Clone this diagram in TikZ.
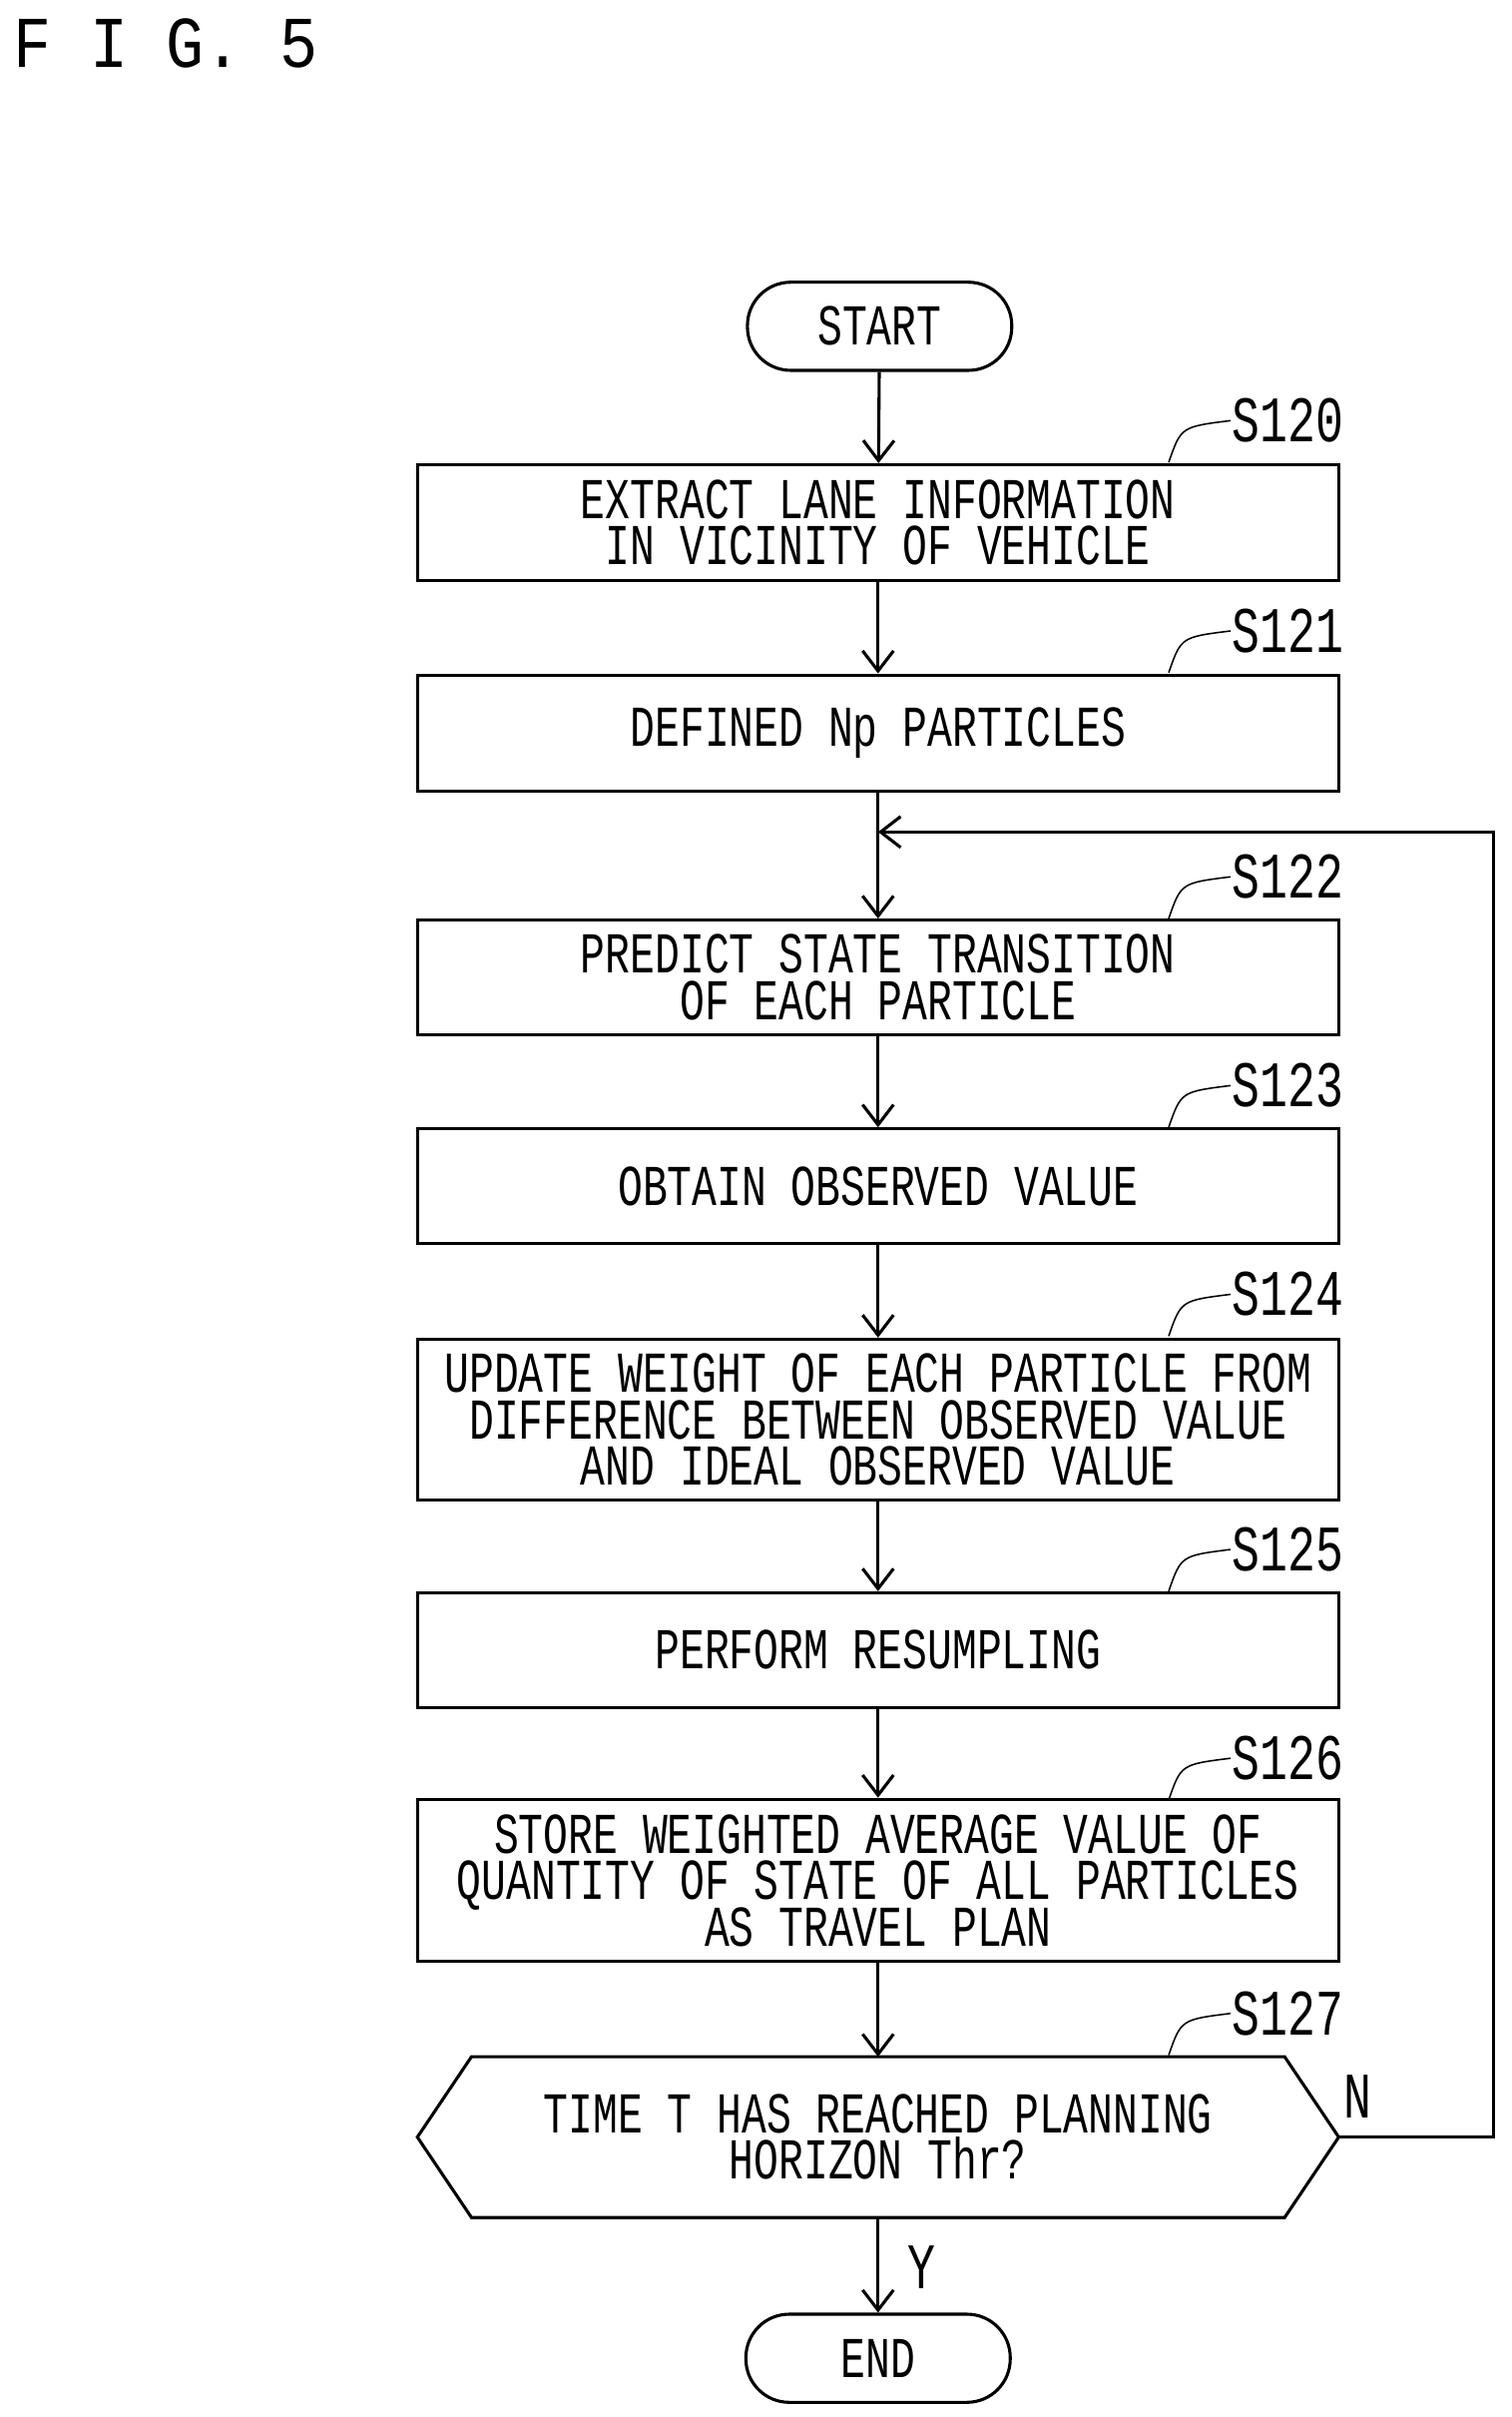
\documentclass[tikz,border=0pt]{standalone}
\usepackage{fontspec}
\setmonofont{Liberation Mono}
\usetikzlibrary{arrows.meta}
\newcommand\vs[1]{\scalebox{1}[1.4]{#1}}
\newcommand\vl[1]{\scalebox{1}[1.4]{#1}}
\AtBeginDocument{\global\lineskiplimit=-50pt\global\lineskip=0pt}
\begin{document}
\begin{tikzpicture}[x=1pt,y=-1pt,line width=2pt,
  txt/.style={font=\ttfamily\fontsize{26.7}{30}\selectfont,align=center},
  box/.style={draw,rectangle,minimum width=596pt,inner sep=0pt,txt},
  term/.style={draw,rectangle,rounded corners=28pt,minimum width=171pt,minimum height=57pt,txt},
  arr/.style={-{Straight Barb[length=13pt,width=20pt,line width=2pt]}},
  lbl/.style={anchor=west,font=\ttfamily\fontsize{30}{30}\selectfont,inner sep=0pt}]
\useasboundingbox (0,0) rectangle (978,1563);
\node[anchor=west,font=\ttfamily\fontsize{41}{41}\selectfont,inner sep=0pt] (fig) at (8,28) {\scalebox{1}[1.15]{F I G. 5}};
\node[term] (start) at (569,211) {\vs{START}};
\node[box,minimum height=75pt] (s120) at (568,338) {\vs{EXTRACT LANE INFORMATION}\\\vs{IN VICINITY OF VEHICLE}};
\node[box,minimum height=75pt] (s121) at (568,474) {\vs{DEFINED Np PARTICLES}};
\coordinate (j) at (568,538);
\node[box,minimum height=74pt] (s122) at (568,632) {\vs{PREDICT STATE TRANSITION}\\\vs{OF EACH PARTICLE}};
\node[box,minimum height=74pt] (s123) at (568,767) {\vs{OBTAIN OBSERVED VALUE}};
\node[box,minimum height=104pt] (s124) at (568,918) {\vs{UPDATE WEIGHT OF EACH PARTICLE FROM}\\\vs{DIFFERENCE BETWEEN OBSERVED VALUE}\\\vs{AND IDEAL OBSERVED VALUE}};
\node[box,minimum height=74pt] (s125) at (568,1067) {\vs{PERFORM RESUMPLING}};
\node[box,minimum height=105pt] (s126) at (568,1216) {\vs{STORE WEIGHTED AVERAGE VALUE OF}\\\vs{QUANTITY OF STATE OF ALL PARTICLES}\\\vs{AS TRAVEL PLAN}};
\coordinate (hl) at (270,1382); \coordinate (hr) at (866,1382);
\coordinate (ht) at (568,1330); \coordinate (hb) at (568,1434);
\draw (hl) -- (305,1330) -- (831,1330) -- (hr) -- (831,1434) -- (305,1434) -- cycle;
\node[txt] (s127) at (568,1382) {\vs{TIME T HAS REACHED PLANNING}\\\vs{HORIZON Thr?}};
\node[term] (end) at (568,1525) {\vs{END}};
\draw[arr] (start) -- (s120);
\draw[arr] (s120) -- (s121);
\draw[arr] (s121) -- (s122);
\draw[arr] (s122) -- (s123);
\draw[arr] (s123) -- (s124);
\draw[arr] (s124) -- (s125);
\draw[arr] (s125) -- (s126);
\draw[arr] (s126) -- (ht);
\draw[arr] (hb) -- (end);
\coordinate (c1) at (966,1382); \coordinate (c2) at (966,538);
\draw[arr] (hr) -- (c1) -- (c2) -- (j);
\node[lbl] (n) at (868,1356) {\vl{N}};
\node[lbl] (y) at (586,1466) {\vl{Y}};
\foreach \n/\t/\yy in {a/S120/272,b/S121/408,c/S122/567,d/S123/702,e/S124/837,f/S125/1002,g/S126/1137,h/S127/1302}{
  \node[lbl] (l\n) at (796,\yy) {\vl{\t}};
  \draw[line width=1pt] (756,\yy+27) .. controls (764,\yy+4) .. (l\n.west);
}
\end{tikzpicture}
\end{document}
